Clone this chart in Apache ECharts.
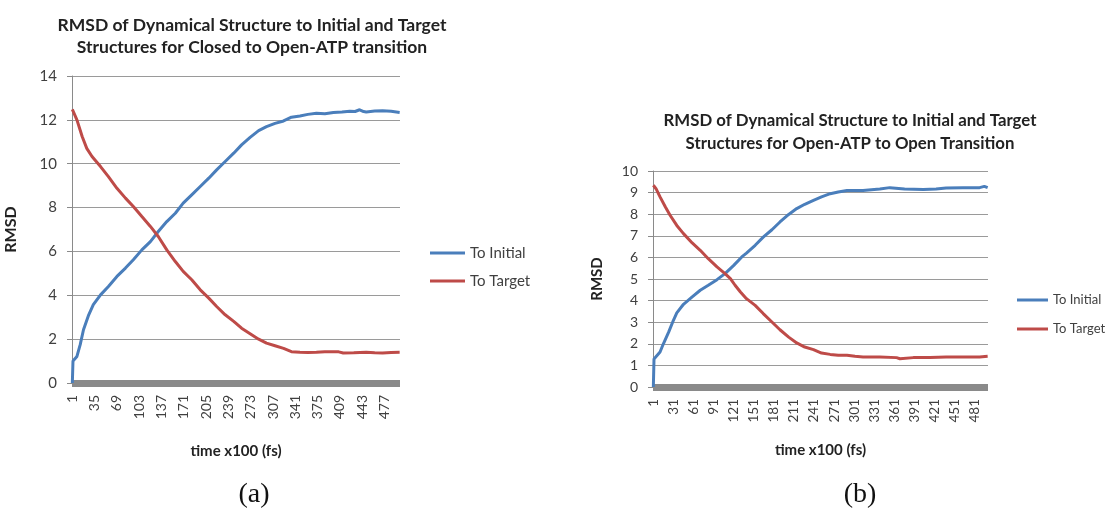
<!DOCTYPE html>
<html>
<head>
<meta charset="utf-8">
<script src="https://cdn.jsdelivr.net/npm/echarts@6/dist/echarts.min.js"></script>
<style>html,body{margin:0;padding:0;background:#fff}#c{width:1106px;height:508px}</style>
</head>
<body>
<div id="c"></div>
<script>
// ---- categories (time steps, x100 fs) ----
var timeStepsA = []; for (var i = 1; i <= 500; i++) timeStepsA.push(String(i));
var timeStepsB = []; for (var j = 1; j <= 500; j++) timeStepsB.push(String(j));

// ---- titles ----
var titleA = ['RMSD of Dynamical Structure to Initial and Target', 'Structures for Closed to Open-ATP transition'];
var titleB = ['RMSD of Dynamical Structure to Initial and Target', 'Structures for Open-ATP to Open Transition'];
var seriesNames = ['To Initial', 'To Target'];

// ---- (a) Closed -> Open-ATP : [time step, RMSD] ----
var aToInitial = [
  [1,0],[2,1.0],[8,1.21],[13,1.75],[18,2.43],[26,3.11],[33,3.57],[44,4.02],[56,4.40],
  [69,4.86],[82,5.24],[94,5.62],[107,6.07],[120,6.45],[132,6.91],[145,7.36],[158,7.74],
  [170,8.20],[183,8.58],[196,8.96],[209,9.34],[221,9.72],[234,10.10],[247,10.48],[259,10.86],
  [272,11.20],[285,11.51],[297,11.69],[310,11.84],[323,11.95],[335,12.12],[348,12.18],
  [360,12.25],[373,12.30],[386,12.28],[399,12.34],[412,12.36],[424,12.39],[432,12.38],
  [439,12.46],[445,12.38],[449,12.36],[462,12.40],[474,12.41],[487,12.39],[500,12.34]
];
var aToTarget = [
  [1,12.48],[8,12.00],[16,11.24],[23,10.70],[31,10.33],[44,9.87],[56,9.41],[69,8.88],
  [82,8.43],[94,8.05],[107,7.59],[120,7.14],[132,6.68],[145,6.07],[158,5.54],[170,5.09],
  [183,4.71],[196,4.25],[209,3.87],[221,3.49],[234,3.11],[247,2.81],[259,2.50],[272,2.25],
  [285,2.00],[297,1.82],[310,1.70],[323,1.58],[335,1.43],[348,1.40],[360,1.39],[373,1.40],
  [386,1.42],[399,1.43],[407,1.42],[414,1.37],[430,1.38],[449,1.40],[462,1.38],[474,1.37],
  [487,1.39],[500,1.40]
];

// ---- (b) Open-ATP -> Open : [time step, RMSD] ----
var bToInitial = [
  [1,0],[2,1.30],[11,1.62],[16,2.00],[24,2.55],[31,3.09],[36,3.43],[46,3.83],[59,4.17],
  [71,4.48],[83,4.71],[96,4.97],[108,5.25],[121,5.63],[133,6.02],[140,6.20],[153,6.56],
  [165,6.94],[178,7.28],[190,7.64],[203,7.99],[215,8.26],[227,8.46],[240,8.64],[252,8.80],
  [265,8.95],[277,9.03],[290,9.10],[314,9.10],[339,9.17],[354,9.23],[376,9.17],[404,9.14],
  [423,9.17],[438,9.21],[463,9.23],[488,9.23],[495,9.29],[500,9.23]
];
var bToTarget = [
  [1,9.34],[5,9.18],[11,8.80],[19,8.33],[26,7.95],[36,7.48],[46,7.10],[59,6.67],[71,6.33],
  [83,5.94],[96,5.56],[108,5.25],[116,5.02],[123,4.71],[131,4.40],[140,4.09],[153,3.78],
  [165,3.40],[178,3.01],[190,2.65],[203,2.31],[215,2.04],[227,1.85],[240,1.73],[252,1.57],
  [265,1.51],[277,1.47],[290,1.47],[302,1.42],[314,1.39],[339,1.39],[364,1.36],[369,1.31],
  [389,1.36],[414,1.37],[438,1.39],[463,1.39],[488,1.39],[500,1.42]
];

// ---- axis ticks ----
var yTicksA = {min: 0, max: 14, interval: 2};
var yTicksB = {min: 0, max: 10, interval: 1};

function toCat(arr) { return arr.map(function (p) { return [String(p[0]), p[1]]; }); }

var BLUE = '#4a7ebb', RED = '#be4b48', TXT = '#404040', FONT = 'Lato';

function xAxis(gridIndex, cats, interval, offset, gap, fs, nfs) {
  return {
    type: 'category', gridIndex: gridIndex, data: cats, boundaryGap: true, offset: offset,
    axisLine: {show: true, lineStyle: {color: '#8a8a8a', width: 7, cap: 'butt'}},
    axisTick: {show: false},
    axisLabel: {interval: interval, rotate: 90, color: TXT, fontFamily: FONT, fontSize: fs, margin: 9},
    name: 'time x100 (fs)', nameLocation: 'middle', nameGap: gap,
    nameTextStyle: {fontFamily: FONT, fontWeight: 'bold', fontSize: nfs, color: '#222'},
    splitLine: {show: false}
  };
}
function yAxis(gridIndex, t, gap, fs, nfs) {
  return {
    type: 'value', gridIndex: gridIndex, min: t.min, max: t.max, interval: t.interval,
    axisLine: {show: true, lineStyle: {color: '#8a8a8a', width: 1}},
    axisTick: {show: true, length: 5, lineStyle: {color: '#8a8a8a'}},
    axisLabel: {color: TXT, fontFamily: FONT, fontSize: fs, margin: 15},
    splitLine: {show: true, lineStyle: {color: '#9a9a9a', width: 1}},
    name: 'RMSD', nameLocation: 'middle', nameGap: gap, nameRotate: 90,
    nameTextStyle: {fontFamily: FONT, fontWeight: 'bold', fontSize: nfs, color: '#222'}
  };
}
function line(name, data, color, xi) {
  return {
    type: 'line', name: name, xAxisIndex: xi, yAxisIndex: xi, data: toCat(data),
    showSymbol: false, symbol: 'none', lineStyle: {color: color, width: 3}, itemStyle: {color: color},
    animation: false
  };
}
function ttl(text, x, y, fs) {
  return {text: text, left: x, top: y, textAlign: 'center',
    textStyle: {fontFamily: FONT, fontWeight: 'bold', fontSize: fs, lineHeight: 20, color: '#222'}};
}

var chart = echarts.init(document.getElementById('c'), null, {renderer: 'canvas'});
chart.setOption({
  backgroundColor: '#ffffff',
  animation: false,
  title: [
    ttl(titleA[0], 247, 10, 17.5),
    ttl(titleA[1], 247, 32, 17.5),
    ttl(titleB[0], 845, 106, 16.8),
    ttl(titleB[1], 845, 129, 16.8),
    {text: '(a)', left: 249, top: 476, textAlign: 'center',
     textStyle: {fontFamily: 'Liberation Serif', fontWeight: 'normal', fontSize: 28, color: '#111'}},
    {text: '(b)', left: 855, top: 476, textAlign: 'center',
     textStyle: {fontFamily: 'Liberation Serif', fontWeight: 'normal', fontSize: 28, color: '#111'}}
  ],
  legend: [
    {orient: 'vertical', left: 425, top: 239, icon: 'rect', itemWidth: 35, itemHeight: 3, itemGap: 10,
     data: [seriesNames[0], seriesNames[1]], selectedMode: false,
     textStyle: {fontFamily: FONT, fontSize: 15, color: TXT, lineHeight: 18}},
    {orient: 'vertical', left: 1012, top: 286, icon: 'rect', itemWidth: 31, itemHeight: 3, itemGap: 11,
     data: [seriesNames[0] + ' ', seriesNames[1] + ' '], selectedMode: false,
     textStyle: {fontFamily: FONT, fontSize: 13, color: TXT, lineHeight: 18}}
  ],
  grid: [
    {left: 72, top: 76, width: 328, height: 307},
    {left: 653, top: 171, width: 335, height: 216}
  ],
  xAxis: [xAxis(0, timeStepsA, 33, 3, 58, 14, 15), xAxis(1, timeStepsB, 29, 3, 53, 13.5, 15)],
  yAxis: [yAxis(0, yTicksA, 53, 15, 16), yAxis(1, yTicksB, 48, 14, 15)],
  series: [
    line(seriesNames[0], aToInitial, BLUE, 0),
    line(seriesNames[1], aToTarget, RED, 0),
    line(seriesNames[0] + ' ', bToInitial, BLUE, 1),
    line(seriesNames[1] + ' ', bToTarget, RED, 1)
  ]
});
</script>
</body>
</html>
